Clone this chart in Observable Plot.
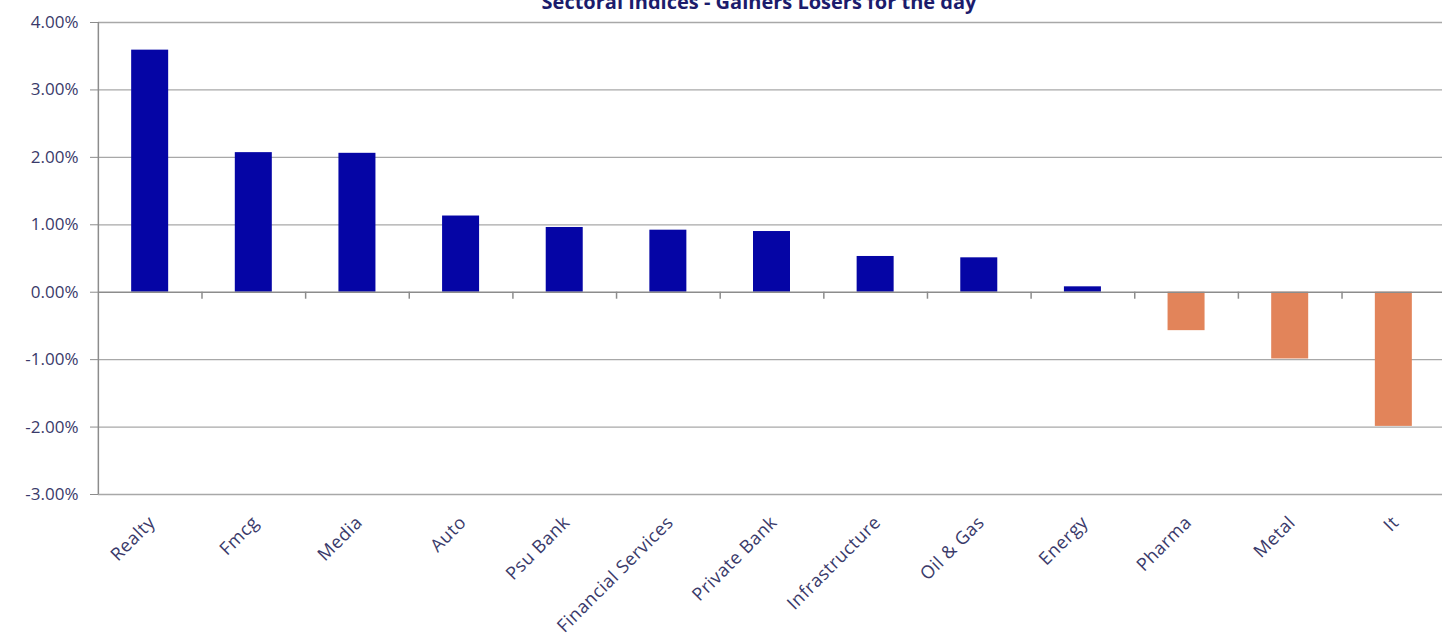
<!DOCTYPE html>
<html><head><meta charset="utf-8">
<script src="https://cdn.jsdelivr.net/npm/d3@7"></script>
<script src="https://cdn.jsdelivr.net/npm/@observablehq/plot@0.6"></script>
<style>
body{margin:0;background:#fff;overflow:hidden;}
#wrap{position:relative;width:1442px;height:635px;overflow:hidden;}
#title{position:absolute;top:-8px;left:459px;width:600px;text-align:center;font:bold 20px "Open Sans";color:#1c1c6c;line-height:20px;white-space:nowrap;}
#chart{position:absolute;top:0;left:0;}
#chart .xax text{letter-spacing:0.5px;}
</style></head><body><div id="wrap"><div id="chart"></div><div id="title">Sectoral Indices - Gainers Losers for the day</div></div>
<script>
const categories = ["Realty","Fmcg","Media","Auto","Psu Bank","Financial Services","Private Bank","Infrastructure","Oil & Gas","Energy","Pharma","Metal","It"];
const changes = [3.59, 2.07, 2.06, 1.13, 0.96, 0.92, 0.90, 0.53, 0.51, 0.08, -0.57, -0.99, -1.99];
const yTicks = [4, 3, 2, 1, 0, -1, -2, -3];
const gainColor = "#0505a5", lossColor = "#e2845a";
const data = categories.map((c, i) => ({sector: c, change: changes[i]}));
const x0 = 98, x1 = 1445;
const step = (x1 - x0) / categories.length;
const fmt = d => d.toFixed(2) + "%";
const chart = Plot.plot({
  width: 1442, height: 635, marginTop: 22, marginBottom: 141, marginLeft: 98, marginRight: 0,
  x: {domain: categories, range: [x0, x1], paddingInner: 0.643, paddingOuter: 0.32, round: false, label: null},
  y: {domain: [-3, 4], label: null},
  style: {fontFamily: "Open Sans", fontSize: "17px", color: "#3a3a6a", background: "white"},
  marks: [
    Plot.ruleY(yTicks.filter(d => d !== 0), {y: d => d, stroke: "#a8a8a8", strokeWidth: 1.3}),
    Plot.barY(data, {x: "sector", y: "change", fill: d => d.change >= 0 ? gainColor : lossColor}),
    Plot.ruleY([0], {y: d => d, stroke: "#8c8c8c", strokeWidth: 1.5}),
    Plot.ruleX(categories.slice(1), {x: d => d, dx: -step / 2, y1: 0, y2: 0, insetBottom: -7, stroke: "#8c8c8c", strokeWidth: 1.5}),
    Plot.ruleX([categories[0]], {x: d => d, dx: -step / 2, y1: -3, y2: 4, stroke: "#8c8c8c", strokeWidth: 1.5}),
    Plot.axisY({ticks: yTicks, tickSize: 8, tickPadding: 12, tickFormat: fmt, stroke: "#8c8c8c", fill: "#3a3a6a", label: null}),
    Plot.axisX({tickRotate: -45, tickSize: 0, tickPadding: 25, dx: 2, fontSize: 18, fill: "#3a3a6a", label: null, className: "xax"})
  ]
});
document.getElementById("chart").appendChild(chart);
</script></body></html>
